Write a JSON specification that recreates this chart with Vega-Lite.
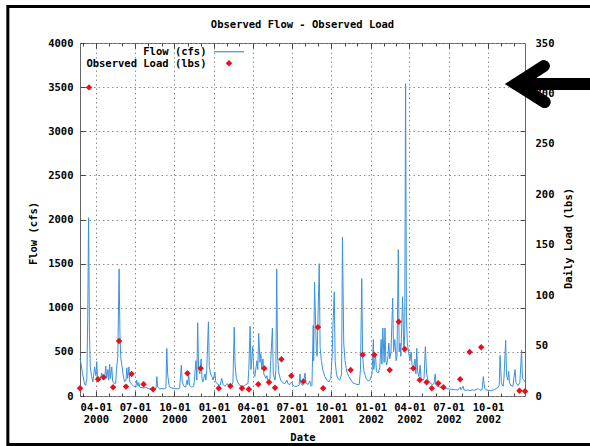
{
  "$schema": "https://vega.github.io/schema/vega-lite/v6.json",
  "width": 445,
  "height": 353,
  "autosize": {"type": "none"},
  "padding": {"left": 80, "top": 43, "right": 65, "bottom": 50},
  "background": "white",
  "title": {
    "text": "Observed Flow - Observed Load",
    "font": "DejaVu Sans Mono",
    "fontSize": 10.5,
    "fontWeight": "bold",
    "color": "#000000",
    "anchor": "middle",
    "frame": "group",
    "offset": -30
  },
  "config": {
    "font": "DejaVu Sans Mono",
    "view": {"stroke": "#666666", "strokeWidth": 1},
    "axis": {
      "labelFont": "DejaVu Sans Mono",
      "labelFontSize": 10.5,
      "labelFontWeight": "bold",
      "labelColor": "#000000",
      "titleFont": "DejaVu Sans Mono",
      "titleFontSize": 10.5,
      "titleFontWeight": "bold",
      "titleColor": "#000000",
      "domain": false,
      "tickColor": "#444444",
      "tickWidth": 1,
      "gridColor": "#8c8c8c",
      "gridDash": [1.5, 3],
      "gridWidth": 1,
      "labelFlush": false,
      "labelOverlap": false
    },
    "text": {"font": "DejaVu Sans Mono", "fontSize": 10.5, "fontWeight": "bold", "color": "#000000"}
  },
  "datasets": {
    "flow": [
      {"date": "2000-02-24", "flow": 420}, {"date": "2000-02-26", "flow": 380}, {"date": "2000-03-01", "flow": 250},
      {"date": "2000-03-06", "flow": 130}, {"date": "2000-03-08", "flow": 120}, {"date": "2000-03-11", "flow": 200},
      {"date": "2000-03-13", "flow": 900}, {"date": "2000-03-15", "flow": 2020}, {"date": "2000-03-17", "flow": 700},
      {"date": "2000-03-19", "flow": 330}, {"date": "2000-03-22", "flow": 220}, {"date": "2000-03-25", "flow": 160},
      {"date": "2000-03-29", "flow": 330}, {"date": "2000-04-01", "flow": 230}, {"date": "2000-04-03", "flow": 390},
      {"date": "2000-04-05", "flow": 200}, {"date": "2000-04-10", "flow": 180}, {"date": "2000-04-15", "flow": 260},
      {"date": "2000-04-17", "flow": 190}, {"date": "2000-04-22", "flow": 230}, {"date": "2000-04-24", "flow": 340},
      {"date": "2000-04-26", "flow": 200}, {"date": "2000-04-29", "flow": 300}, {"date": "2000-05-01", "flow": 180},
      {"date": "2000-05-03", "flow": 360}, {"date": "2000-05-05", "flow": 200}, {"date": "2000-05-08", "flow": 330},
      {"date": "2000-05-10", "flow": 170}, {"date": "2000-05-12", "flow": 150}, {"date": "2000-05-17", "flow": 140},
      {"date": "2000-05-19", "flow": 300}, {"date": "2000-05-22", "flow": 450}, {"date": "2000-05-25", "flow": 1440},
      {"date": "2000-05-27", "flow": 700}, {"date": "2000-05-29", "flow": 430}, {"date": "2000-06-01", "flow": 330},
      {"date": "2000-06-03", "flow": 250}, {"date": "2000-06-05", "flow": 200}, {"date": "2000-06-07", "flow": 160},
      {"date": "2000-06-10", "flow": 180}, {"date": "2000-06-12", "flow": 320}, {"date": "2000-06-14", "flow": 200},
      {"date": "2000-06-17", "flow": 330}, {"date": "2000-06-19", "flow": 160}, {"date": "2000-06-24", "flow": 130},
      {"date": "2000-06-28", "flow": 110}, {"date": "2000-07-03", "flow": 100}, {"date": "2000-07-05", "flow": 180},
      {"date": "2000-07-08", "flow": 110}, {"date": "2000-07-10", "flow": 150}, {"date": "2000-07-12", "flow": 100},
      {"date": "2000-07-17", "flow": 95}, {"date": "2000-07-22", "flow": 90}, {"date": "2000-07-26", "flow": 100},
      {"date": "2000-07-31", "flow": 85}, {"date": "2000-08-05", "flow": 80}, {"date": "2000-08-09", "flow": 90},
      {"date": "2000-08-14", "flow": 80}, {"date": "2000-08-19", "flow": 85}, {"date": "2000-08-21", "flow": 220},
      {"date": "2000-08-23", "flow": 100}, {"date": "2000-08-28", "flow": 80}, {"date": "2000-09-02", "flow": 85},
      {"date": "2000-09-06", "flow": 80}, {"date": "2000-09-11", "flow": 90}, {"date": "2000-09-13", "flow": 540},
      {"date": "2000-09-15", "flow": 250}, {"date": "2000-09-18", "flow": 130}, {"date": "2000-09-20", "flow": 100},
      {"date": "2000-09-25", "flow": 90}, {"date": "2000-10-02", "flow": 85}, {"date": "2000-10-09", "flow": 80},
      {"date": "2000-10-13", "flow": 90}, {"date": "2000-10-17", "flow": 350}, {"date": "2000-10-19", "flow": 160},
      {"date": "2000-10-23", "flow": 110}, {"date": "2000-10-27", "flow": 100}, {"date": "2000-10-30", "flow": 180},
      {"date": "2000-11-01", "flow": 130}, {"date": "2000-11-03", "flow": 250}, {"date": "2000-11-05", "flow": 120},
      {"date": "2000-11-10", "flow": 100}, {"date": "2000-11-15", "flow": 110}, {"date": "2000-11-20", "flow": 400},
      {"date": "2000-11-22", "flow": 180}, {"date": "2000-11-24", "flow": 830}, {"date": "2000-11-26", "flow": 300},
      {"date": "2000-11-29", "flow": 250}, {"date": "2000-12-02", "flow": 420}, {"date": "2000-12-04", "flow": 200},
      {"date": "2000-12-06", "flow": 160}, {"date": "2000-12-11", "flow": 250}, {"date": "2000-12-13", "flow": 180},
      {"date": "2000-12-15", "flow": 300}, {"date": "2000-12-19", "flow": 840}, {"date": "2000-12-21", "flow": 330},
      {"date": "2000-12-24", "flow": 250}, {"date": "2000-12-27", "flow": 220}, {"date": "2000-12-30", "flow": 180},
      {"date": "2001-01-03", "flow": 270}, {"date": "2001-01-05", "flow": 160}, {"date": "2001-01-10", "flow": 130},
      {"date": "2001-01-15", "flow": 120}, {"date": "2001-01-19", "flow": 200}, {"date": "2001-01-22", "flow": 130},
      {"date": "2001-01-26", "flow": 110}, {"date": "2001-01-31", "flow": 140}, {"date": "2001-02-05", "flow": 120},
      {"date": "2001-02-09", "flow": 110}, {"date": "2001-02-14", "flow": 150}, {"date": "2001-02-17", "flow": 780},
      {"date": "2001-02-19", "flow": 350}, {"date": "2001-02-22", "flow": 200}, {"date": "2001-02-26", "flow": 150},
      {"date": "2001-03-02", "flow": 120}, {"date": "2001-03-07", "flow": 110}, {"date": "2001-03-12", "flow": 110},
      {"date": "2001-03-16", "flow": 130}, {"date": "2001-03-21", "flow": 140}, {"date": "2001-03-23", "flow": 300},
      {"date": "2001-03-26", "flow": 790}, {"date": "2001-03-28", "flow": 300}, {"date": "2001-04-01", "flow": 560},
      {"date": "2001-04-04", "flow": 250}, {"date": "2001-04-06", "flow": 220}, {"date": "2001-04-11", "flow": 400},
      {"date": "2001-04-13", "flow": 300}, {"date": "2001-04-15", "flow": 710}, {"date": "2001-04-18", "flow": 380},
      {"date": "2001-04-20", "flow": 480}, {"date": "2001-04-22", "flow": 300}, {"date": "2001-04-25", "flow": 420},
      {"date": "2001-04-27", "flow": 250}, {"date": "2001-05-02", "flow": 200}, {"date": "2001-05-04", "flow": 230},
      {"date": "2001-05-06", "flow": 180}, {"date": "2001-05-11", "flow": 180}, {"date": "2001-05-13", "flow": 400},
      {"date": "2001-05-17", "flow": 770}, {"date": "2001-05-19", "flow": 250}, {"date": "2001-05-23", "flow": 180},
      {"date": "2001-05-25", "flow": 300}, {"date": "2001-05-27", "flow": 1440}, {"date": "2001-05-29", "flow": 450},
      {"date": "2001-06-01", "flow": 260}, {"date": "2001-06-05", "flow": 180}, {"date": "2001-06-10", "flow": 150},
      {"date": "2001-06-15", "flow": 140}, {"date": "2001-06-20", "flow": 180}, {"date": "2001-06-22", "flow": 140},
      {"date": "2001-06-27", "flow": 130}, {"date": "2001-07-01", "flow": 160}, {"date": "2001-07-04", "flow": 120},
      {"date": "2001-07-08", "flow": 110}, {"date": "2001-07-13", "flow": 110}, {"date": "2001-07-18", "flow": 120},
      {"date": "2001-07-20", "flow": 250}, {"date": "2001-07-22", "flow": 140}, {"date": "2001-07-27", "flow": 120},
      {"date": "2001-08-01", "flow": 260}, {"date": "2001-08-03", "flow": 150}, {"date": "2001-08-08", "flow": 130},
      {"date": "2001-08-12", "flow": 170}, {"date": "2001-08-15", "flow": 110}, {"date": "2001-08-17", "flow": 120},
      {"date": "2001-08-20", "flow": 800}, {"date": "2001-08-21", "flow": 400}, {"date": "2001-08-23", "flow": 1290},
      {"date": "2001-08-27", "flow": 550}, {"date": "2001-08-29", "flow": 450}, {"date": "2001-09-03", "flow": 1500},
      {"date": "2001-09-05", "flow": 550}, {"date": "2001-09-08", "flow": 400}, {"date": "2001-09-11", "flow": 300},
      {"date": "2001-09-16", "flow": 220}, {"date": "2001-09-21", "flow": 180}, {"date": "2001-09-25", "flow": 160},
      {"date": "2001-09-30", "flow": 200}, {"date": "2001-10-03", "flow": 450}, {"date": "2001-10-05", "flow": 800},
      {"date": "2001-10-08", "flow": 1180}, {"date": "2001-10-10", "flow": 400}, {"date": "2001-10-13", "flow": 250},
      {"date": "2001-10-16", "flow": 200}, {"date": "2001-10-21", "flow": 180}, {"date": "2001-10-25", "flow": 250},
      {"date": "2001-10-27", "flow": 1800}, {"date": "2001-10-30", "flow": 600}, {"date": "2001-11-02", "flow": 400},
      {"date": "2001-11-06", "flow": 280}, {"date": "2001-11-11", "flow": 220}, {"date": "2001-11-16", "flow": 180},
      {"date": "2001-11-20", "flow": 150}, {"date": "2001-11-25", "flow": 140}, {"date": "2001-11-30", "flow": 130},
      {"date": "2001-12-05", "flow": 130}, {"date": "2001-12-08", "flow": 300}, {"date": "2001-12-11", "flow": 1330},
      {"date": "2001-12-13", "flow": 450}, {"date": "2001-12-16", "flow": 280}, {"date": "2001-12-21", "flow": 200},
      {"date": "2001-12-26", "flow": 170}, {"date": "2001-12-30", "flow": 180}, {"date": "2002-01-04", "flow": 250},
      {"date": "2002-01-07", "flow": 640}, {"date": "2002-01-08", "flow": 300}, {"date": "2002-01-12", "flow": 480},
      {"date": "2002-01-14", "flow": 280}, {"date": "2002-01-18", "flow": 260}, {"date": "2002-01-22", "flow": 320},
      {"date": "2002-01-25", "flow": 640}, {"date": "2002-01-27", "flow": 360}, {"date": "2002-01-29", "flow": 770},
      {"date": "2002-02-01", "flow": 380}, {"date": "2002-02-03", "flow": 770}, {"date": "2002-02-05", "flow": 400},
      {"date": "2002-02-07", "flow": 350}, {"date": "2002-02-10", "flow": 450}, {"date": "2002-02-12", "flow": 600},
      {"date": "2002-02-14", "flow": 420}, {"date": "2002-02-17", "flow": 500}, {"date": "2002-02-21", "flow": 1110},
      {"date": "2002-02-23", "flow": 500}, {"date": "2002-02-26", "flow": 640}, {"date": "2002-03-01", "flow": 400},
      {"date": "2002-03-03", "flow": 450}, {"date": "2002-03-06", "flow": 1660}, {"date": "2002-03-08", "flow": 500},
      {"date": "2002-03-10", "flow": 600}, {"date": "2002-03-12", "flow": 450}, {"date": "2002-03-16", "flow": 1125},
      {"date": "2002-03-19", "flow": 500}, {"date": "2002-03-21", "flow": 700}, {"date": "2002-03-23", "flow": 3540},
      {"date": "2002-03-25", "flow": 900}, {"date": "2002-03-27", "flow": 600}, {"date": "2002-03-30", "flow": 500},
      {"date": "2002-04-02", "flow": 400}, {"date": "2002-04-05", "flow": 500}, {"date": "2002-04-07", "flow": 350},
      {"date": "2002-04-10", "flow": 300}, {"date": "2002-04-14", "flow": 420}, {"date": "2002-04-16", "flow": 250},
      {"date": "2002-04-18", "flow": 540}, {"date": "2002-04-20", "flow": 280}, {"date": "2002-04-23", "flow": 220},
      {"date": "2002-04-26", "flow": 350}, {"date": "2002-04-28", "flow": 200}, {"date": "2002-05-03", "flow": 180},
      {"date": "2002-05-05", "flow": 200}, {"date": "2002-05-08", "flow": 560}, {"date": "2002-05-11", "flow": 250},
      {"date": "2002-05-14", "flow": 180}, {"date": "2002-05-19", "flow": 150}, {"date": "2002-05-24", "flow": 130},
      {"date": "2002-05-28", "flow": 140}, {"date": "2002-05-31", "flow": 250}, {"date": "2002-06-02", "flow": 120},
      {"date": "2002-06-06", "flow": 110}, {"date": "2002-06-11", "flow": 100}, {"date": "2002-06-16", "flow": 95},
      {"date": "2002-06-20", "flow": 90}, {"date": "2002-06-25", "flow": 85}, {"date": "2002-06-30", "flow": 80},
      {"date": "2002-07-04", "flow": 80}, {"date": "2002-07-09", "flow": 75}, {"date": "2002-07-14", "flow": 72},
      {"date": "2002-07-18", "flow": 70}, {"date": "2002-07-23", "flow": 68}, {"date": "2002-07-28", "flow": 100},
      {"date": "2002-07-30", "flow": 70}, {"date": "2002-08-04", "flow": 110}, {"date": "2002-08-06", "flow": 68},
      {"date": "2002-08-11", "flow": 65}, {"date": "2002-08-15", "flow": 68}, {"date": "2002-08-20", "flow": 62},
      {"date": "2002-08-25", "flow": 70}, {"date": "2002-08-29", "flow": 65}, {"date": "2002-09-03", "flow": 70},
      {"date": "2002-09-08", "flow": 85}, {"date": "2002-09-12", "flow": 65}, {"date": "2002-09-17", "flow": 70},
      {"date": "2002-09-20", "flow": 220}, {"date": "2002-09-23", "flow": 90}, {"date": "2002-09-26", "flow": 70},
      {"date": "2002-10-01", "flow": 65}, {"date": "2002-10-05", "flow": 62}, {"date": "2002-10-10", "flow": 65},
      {"date": "2002-10-15", "flow": 70}, {"date": "2002-10-20", "flow": 85}, {"date": "2002-10-24", "flow": 95},
      {"date": "2002-10-27", "flow": 120}, {"date": "2002-10-29", "flow": 460}, {"date": "2002-11-01", "flow": 150},
      {"date": "2002-11-05", "flow": 110}, {"date": "2002-11-07", "flow": 200}, {"date": "2002-11-11", "flow": 630},
      {"date": "2002-11-13", "flow": 250}, {"date": "2002-11-16", "flow": 180}, {"date": "2002-11-18", "flow": 280},
      {"date": "2002-11-20", "flow": 150}, {"date": "2002-11-23", "flow": 120}, {"date": "2002-11-28", "flow": 110},
      {"date": "2002-11-30", "flow": 200}, {"date": "2002-12-03", "flow": 300}, {"date": "2002-12-05", "flow": 150},
      {"date": "2002-12-10", "flow": 120}, {"date": "2002-12-14", "flow": 150}, {"date": "2002-12-18", "flow": 520},
      {"date": "2002-12-20", "flow": 200}, {"date": "2002-12-26", "flow": 160}
    ],
    "load": [
      {"date": "2000-02-24", "load": 7.6}, {"date": "2000-03-16", "load": 306}, {"date": "2000-04-06", "load": 16.5},
      {"date": "2000-04-19", "load": 18.5}, {"date": "2000-05-11", "load": 8.6}, {"date": "2000-05-25", "load": 54.5},
      {"date": "2000-06-10", "load": 9.3}, {"date": "2000-06-23", "load": 21.8}, {"date": "2000-07-21", "load": 11.6},
      {"date": "2000-08-12", "load": 6.6}, {"date": "2000-10-31", "load": 22.5}, {"date": "2000-12-01", "load": 27.4},
      {"date": "2001-01-12", "load": 7.6}, {"date": "2001-02-08", "load": 9.9}, {"date": "2001-03-07", "load": 7.6},
      {"date": "2001-03-23", "load": 6.6}, {"date": "2001-04-14", "load": 11.6}, {"date": "2001-04-28", "load": 27.4},
      {"date": "2001-05-09", "load": 13.6}, {"date": "2001-05-23", "load": 8.2}, {"date": "2001-06-07", "load": 36.4},
      {"date": "2001-06-30", "load": 20.1}, {"date": "2001-07-28", "load": 14.5}, {"date": "2001-08-31", "load": 68.1},
      {"date": "2001-09-12", "load": 7.6}, {"date": "2001-11-15", "load": 25.8}, {"date": "2001-12-13", "load": 41},
      {"date": "2002-01-09", "load": 41}, {"date": "2002-02-14", "load": 25.8}, {"date": "2002-03-07", "load": 73.7},
      {"date": "2002-03-21", "load": 46.6}, {"date": "2002-04-10", "load": 27.4}, {"date": "2002-04-25", "load": 15.9},
      {"date": "2002-05-11", "load": 13.6}, {"date": "2002-05-23", "load": 7.6}, {"date": "2002-06-07", "load": 12.6},
      {"date": "2002-06-19", "load": 8.6}, {"date": "2002-07-28", "load": 16.5}, {"date": "2002-08-19", "load": 43.6},
      {"date": "2002-09-15", "load": 48.3}, {"date": "2002-12-13", "load": 5.3}, {"date": "2002-12-26", "load": 4.7}
    ],
    "frame": [
      {"date": "2003-06-18", "level": 4413, "step": 1},
      {"date": "1999-09-09", "level": 4413, "step": 2},
      {"date": "1999-09-09", "level": -550, "step": 3},
      {"date": "2003-06-18", "level": -550, "step": 4}
    ],
    "pointer": [
      {"part": "shaft", "date": "2002-12-05", "level": 3535, "step": 1},
      {"part": "shaft", "date": "2003-06-18", "level": 3535, "step": 2},
      {"part": "head", "date": "2003-02-08", "level": 3739, "step": 1},
      {"part": "head", "date": "2002-12-05", "level": 3535, "step": 2},
      {"part": "head", "date": "2003-02-10", "level": 3331, "step": 3}
    ]
  },
  "layer": [
    {
      "data": {"name": "flow"},
      "mark": {"type": "line", "strokeWidth": 1, "color": "#3a92dd"},
      "encoding": {
        "x": {
          "field": "date",
          "type": "temporal",
          "scale": {"type": "utc", "domain": [{"year": 2000, "month": 2, "date": 24, "utc": true}, {"year": 2002, "month": 12, "date": 26, "utc": true}]},
          "axis": {
            "orient": "bottom",
            "values": [
              {"year": 2000, "month": 4, "date": 1, "utc": true}, {"year": 2000, "month": 7, "date": 1, "utc": true},
              {"year": 2000, "month": 10, "date": 1, "utc": true}, {"year": 2001, "month": 1, "date": 1, "utc": true},
              {"year": 2001, "month": 4, "date": 1, "utc": true}, {"year": 2001, "month": 7, "date": 1, "utc": true},
              {"year": 2001, "month": 10, "date": 1, "utc": true}, {"year": 2002, "month": 1, "date": 1, "utc": true},
              {"year": 2002, "month": 4, "date": 1, "utc": true}, {"year": 2002, "month": 7, "date": 1, "utc": true},
              {"year": 2002, "month": 10, "date": 1, "utc": true}
            ],
            "labelExpr": "[utcFormat(datum.value, '%m-%d'), utcFormat(datum.value, '%Y')]",
            "labelBaseline": "top",
            "labelLineHeight": 12,
            "labelPadding": 11,
            "tickSize": -5,
            "grid": true,
            "title": "Date",
            "titleBaseline": "middle",
            "titleY": 41
          }
        },
        "y": {
          "field": "flow",
          "type": "quantitative",
          "scale": {"domain": [0, 4000], "nice": false},
          "axis": {
            "orient": "left",
            "values": [0, 500, 1000, 1500, 2000, 2500, 3000, 3500, 4000],
            "format": "d",
            "tickSize": -5,
            "labelPadding": 12,
            "grid": true,
            "title": "Flow (cfs)",
            "titleAngle": 270,
            "titleBaseline": "middle",
            "titleAlign": "center",
            "titleX": -47,
            "titleY": 190
          }
        }
      }
    },
    {
      "data": {"name": "load"},
      "mark": {"type": "point", "shape": "diamond", "filled": true, "size": 42, "opacity": 1, "color": "#e8101a"},
      "encoding": {
        "x": {
          "field": "date",
          "type": "temporal",
          "scale": {"type": "utc", "domain": [{"year": 2000, "month": 2, "date": 24, "utc": true}, {"year": 2002, "month": 12, "date": 26, "utc": true}]},
          "axis": {
            "orient": "top",
            "tickCount": {"interval": "month", "step": 1},
            "labels": false,
            "grid": false,
            "tickSize": -3,
            "title": null
          }
        },
        "y": {
          "field": "load",
          "type": "quantitative",
          "scale": {"domain": [0, 350], "nice": false},
          "axis": {
            "orient": "right",
            "values": [0, 50, 100, 150, 200, 250, 300, 350],
            "ticks": false,
            "labelPadding": 10,
            "grid": false,
            "title": "Daily Load (lbs)",
            "titleAngle": 270,
            "titleBaseline": "middle",
            "titleAlign": "center",
            "titleX": 43,
            "titleY": 195
          }
        }
      }
    },
    {
      "data": {"values": [{"entry": "Flow (cfs)"}]},
      "mark": {"type": "text", "align": "right", "baseline": "middle"},
      "encoding": {
        "x": {"datum": {"year": 2000, "month": 12, "date": 14, "hours": 12, "utc": true}, "type": "temporal", "scale": {"type": "utc", "domain": [{"year": 2000, "month": 2, "date": 24, "utc": true}, {"year": 2002, "month": 12, "date": 26, "utc": true}]}, "axis": null},
        "y": {"datum": 3895, "type": "quantitative", "scale": {"domain": [0, 4000], "nice": false}, "axis": null},
        "text": {"field": "entry"}
      }
    },
    {
      "data": {"values": [{"entry": "Flow (cfs)"}]},
      "mark": {"type": "rule", "color": "#3a92dd", "strokeWidth": 1.2},
      "encoding": {
        "x": {"datum": {"year": 2001, "month": 1, "date": 1, "utc": true}, "type": "temporal", "scale": {"type": "utc", "domain": [{"year": 2000, "month": 2, "date": 24, "utc": true}, {"year": 2002, "month": 12, "date": 26, "utc": true}]}, "axis": null},
        "x2": {"datum": {"year": 2001, "month": 3, "date": 11, "hours": 19, "utc": true}},
        "y": {"datum": 3901, "type": "quantitative", "scale": {"domain": [0, 4000], "nice": false}, "axis": null}
      }
    },
    {
      "data": {"values": [{"entry": "Observed Load (lbs)"}]},
      "mark": {"type": "text", "align": "right", "baseline": "middle"},
      "encoding": {
        "x": {"datum": {"year": 2000, "month": 12, "date": 14, "hours": 12, "utc": true}, "type": "temporal", "scale": {"type": "utc", "domain": [{"year": 2000, "month": 2, "date": 24, "utc": true}, {"year": 2002, "month": 12, "date": 26, "utc": true}]}, "axis": null},
        "y": {"datum": 3764, "type": "quantitative", "scale": {"domain": [0, 4000], "nice": false}, "axis": null},
        "text": {"field": "entry"}
      }
    },
    {
      "data": {"values": [{"entry": "Observed Load (lbs)"}]},
      "mark": {"type": "point", "shape": "diamond", "filled": true, "size": 42, "opacity": 1, "color": "#e8101a"},
      "encoding": {
        "x": {"datum": {"year": 2001, "month": 2, "date": 4, "hours": 22, "utc": true}, "type": "temporal", "scale": {"type": "utc", "domain": [{"year": 2000, "month": 2, "date": 24, "utc": true}, {"year": 2002, "month": 12, "date": 26, "utc": true}]}, "axis": null},
        "y": {"datum": 3770, "type": "quantitative", "scale": {"domain": [0, 4000], "nice": false}, "axis": null}
      }
    },
    {
      "data": {"name": "frame"},
      "mark": {"type": "line", "color": "#000000", "strokeWidth": 3, "strokeJoin": "miter"},
      "encoding": {
        "x": {
          "field": "date",
          "type": "temporal",
          "scale": {"type": "utc", "domain": [{"year": 2000, "month": 2, "date": 24, "utc": true}, {"year": 2002, "month": 12, "date": 26, "utc": true}]},
          "axis": {
            "orient": "bottom",
            "tickCount": {"interval": "month", "step": 1},
            "labels": false,
            "grid": false,
            "tickSize": -3,
            "title": null
          }
        },
        "y": {
          "field": "level",
          "type": "quantitative",
          "scale": {"domain": [0, 4000], "nice": false},
          "axis": {
            "orient": "right",
            "values": [500, 1000, 1500, 2000, 2500, 3000, 3500],
            "labels": false,
            "grid": false,
            "tickSize": -5,
            "title": null
          }
        },
        "order": {"field": "step", "type": "quantitative"}
      }
    },
    {
      "data": {"name": "pointer"},
      "mark": {"type": "line", "color": "#000000", "strokeWidth": 12, "strokeCap": "round", "strokeJoin": "miter"},
      "encoding": {
        "x": {
          "field": "date",
          "type": "temporal",
          "scale": {"type": "utc", "domain": [{"year": 2000, "month": 2, "date": 24, "utc": true}, {"year": 2002, "month": 12, "date": 26, "utc": true}]},
          "axis": {
            "orient": "top",
            "values": [
              {"year": 2000, "month": 4, "date": 1, "utc": true}, {"year": 2000, "month": 7, "date": 1, "utc": true},
              {"year": 2000, "month": 10, "date": 1, "utc": true}, {"year": 2001, "month": 1, "date": 1, "utc": true},
              {"year": 2001, "month": 4, "date": 1, "utc": true}, {"year": 2001, "month": 7, "date": 1, "utc": true},
              {"year": 2001, "month": 10, "date": 1, "utc": true}, {"year": 2002, "month": 1, "date": 1, "utc": true},
              {"year": 2002, "month": 4, "date": 1, "utc": true}, {"year": 2002, "month": 7, "date": 1, "utc": true},
              {"year": 2002, "month": 10, "date": 1, "utc": true}
            ],
            "labels": false,
            "grid": false,
            "tickSize": -5,
            "title": null
          }
        },
        "y": {
          "field": "level",
          "type": "quantitative",
          "scale": {"domain": [0, 4000], "nice": false},
          "axis": null
        },
        "detail": {"field": "part", "type": "nominal"},
        "order": {"field": "step", "type": "quantitative"}
      }
    }
  ],
  "resolve": {
    "scale": {"y": "independent"},
    "axis": {"x": "independent", "y": "independent"}
  }
}
